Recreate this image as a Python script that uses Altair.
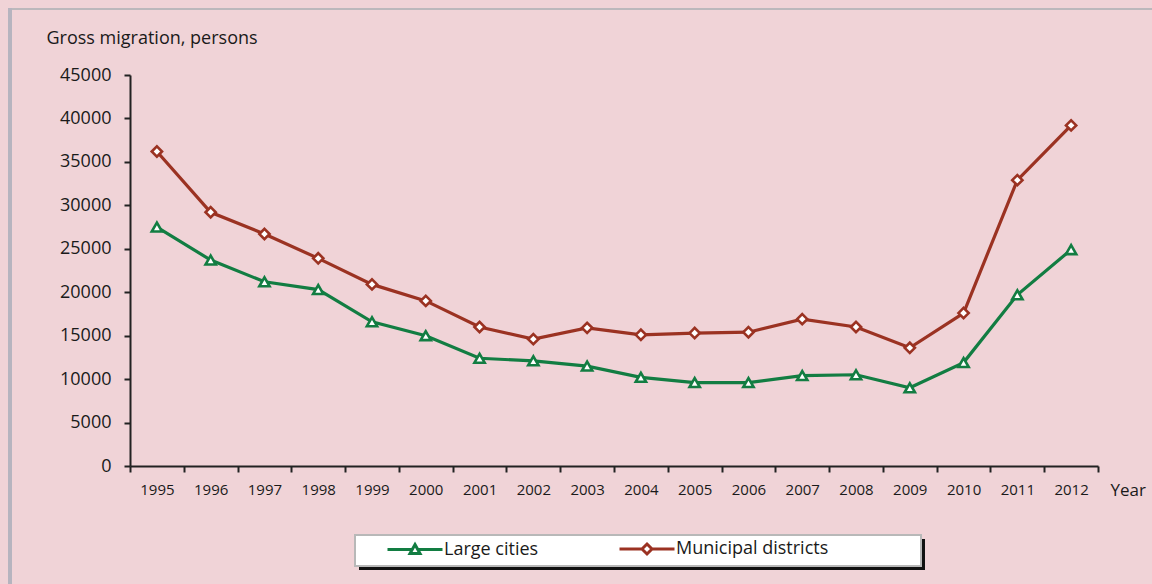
import altair as alt
import pandas as pd

years = [str(y) for y in range(1995, 2013)]
large_cities = [27500, 23700, 21200, 20300, 16600, 15000, 12400, 12100, 11500,
                10200, 9600, 9600, 10400, 10500, 9000, 11900, 19700, 24900]
municipal = [36200, 29200, 26700, 23900, 20900, 19000, 16000, 14600, 15900,
             15100, 15300, 15400, 16900, 16000, 13600, 17600, 32900, 39200]
series_names = ["Large cities", "Municipal districts"]
colors = ["#127d42", "#9b3222"]
shapes = ["triangle-up", "diamond"]
y_ticks = list(range(0, 45001, 5000))

rows = []
for i, y in enumerate(years):
    rows.append({"year": y, "series": series_names[0], "value": large_cities[i]})
    rows.append({"year": y, "series": series_names[1], "value": municipal[i]})
df = pd.DataFrame(rows)

FONT = "Open Sans"
TXT = "#1a1a1a"
W, H = 968, 391
PL, PT = 130, 75

x_enc = alt.X(
    "year:O",
    bandPosition=0.5,
    scale=alt.Scale(type="band", paddingInner=0, paddingOuter=0),
    axis=alt.Axis(
        title="Year", titleAngle=0, titleX=980, titleY=24, titleAlign="left",
        titleBaseline="middle", titleFontSize=17, titleFontWeight="normal",
        titleFont=FONT, titleColor=TXT,
        tickBand="extent", labelAngle=0, labelFontSize=15, labelFont=FONT,
        labelColor=TXT, labelPadding=10, tickSize=6, tickWidth=2,
        tickColor="#222222", domainColor="#222222", domainWidth=2, grid=False,
    ),
)
y_enc = alt.Y(
    "value:Q",
    scale=alt.Scale(domain=[0, 45000], nice=False),
    axis=alt.Axis(
        values=y_ticks, format="d", grid=False,
        title="Gross migration, persons", titleAngle=0, titleX=-84, titleY=-37,
        titleAlign="left", titleBaseline="middle", titleFontSize=18,
        titleFontWeight="normal", titleFont=FONT, titleColor=TXT,
        labelFontSize=18, labelFont=FONT, labelColor=TXT, labelPadding=13,
        tickSize=6, tickWidth=2, tickColor="#222222", domainColor="#222222",
        domainWidth=2,
    ),
)

one = alt.Data(values=[{"k": 1}])

def deco(x, x2, y, y2, **kw):
    return alt.Chart(one).mark_rect(**kw).encode(
        x=alt.value(x), x2=alt.value(x2), y=alt.value(y), y2=alt.value(y2)
    )

frame_top = deco(8 - PL, 1160 - PL, 8 - PT, 10 - PT, color="#bcb8bc")
frame_left = deco(8 - PL, 12 - PL, 8 - PT, 600 - PT, color="#b6b4bf")
shadow = deco(359 - PL, 925 - PL, 539 - PT, 570 - PT, color="#111111")
box = deco(355 - PL, 921 - PL, 535 - PT, 566 - PT, fill="white",
           stroke="#b8b8b8", strokeWidth=2)

layers = [frame_top, frame_left, shadow, box]
for name, col in zip(series_names, colors):
    layers.append(
        alt.Chart(df).transform_filter(alt.datum.series == name)
        .mark_line(strokeWidth=3.2, color=col)
        .encode(x=x_enc, y=y_enc)
    )
for name, col, shp in zip(series_names, colors, shapes):
    layers.append(
        alt.Chart(df).transform_filter(alt.datum.series == name)
        .mark_point(shape=shp, stroke=col, fill="white", filled=False,
                    fillOpacity=1, strokeWidth=2.6, size=105, opacity=1)
        .encode(x=x_enc, y=y_enc)
    )

tri_path = "M-5.5,0H-0.56M0.56,0H5.5M0,-1L1,0.8H-1Z"
dia_path = "M-5.5,0H-1M1,0H5.5M0,-1L1,0L0,1L-1,0Z"

legend_layer = alt.Chart(df).transform_filter("false").mark_point(
    filled=False, strokeWidth=3, opacity=1
).encode(
    x=x_enc, y=y_enc,
    color=alt.Color("series:N", scale=alt.Scale(domain=series_names, range=colors),
                    legend=alt.Legend(
        orient="none", legendX=255, legendY=465, direction="horizontal",
        title=None, symbolSize=100, symbolStrokeWidth=3, symbolOffset=21,
        symbolOpacity=1, labelOffset=20, columnPadding=74, labelFontSize=18,
        labelFont=FONT, labelColor=TXT, padding=0, zindex=1,
    )),
    shape=alt.Shape("series:N", scale=alt.Scale(domain=series_names,
                                                range=[tri_path, dia_path])),
)
layers.append(legend_layer)

chart = alt.layer(*layers).properties(
    width=W, height=H, background="#f0d3d7",
    padding={"left": PL, "top": PT, "right": 1152 - PL - W, "bottom": 584 - PT - H},
    autosize=alt.AutoSizeParams(type="none"),
).configure_view(stroke=None)

chart.save("out.html", embed_options={"renderer": "svg", "actions": False})
